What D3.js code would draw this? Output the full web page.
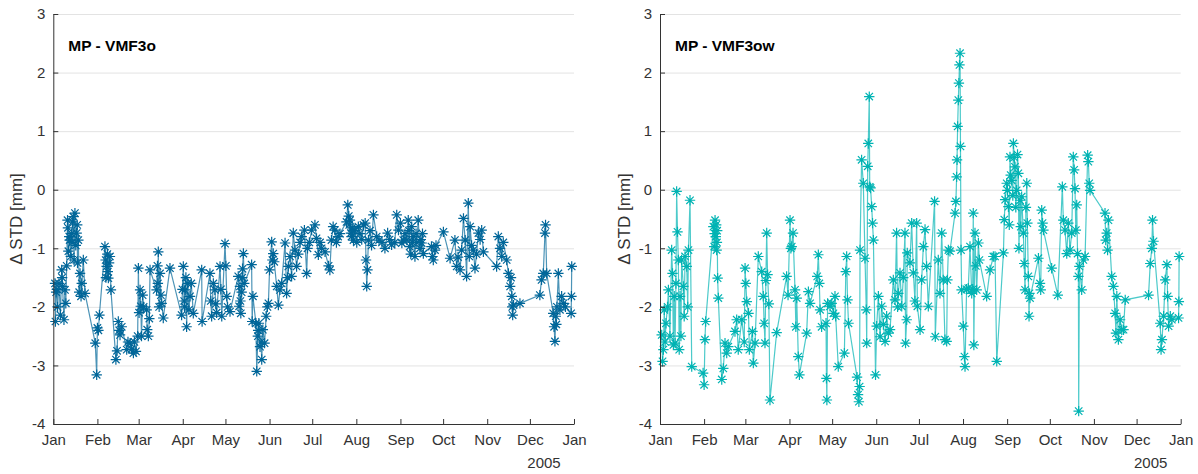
<!DOCTYPE html>
<html>
<meta charset="utf-8">
<head>
<script src="https://d3js.org/d3.v7.min.js"></script>
<style>
  body { margin: 0; background: #fff; }
  svg text { font-family: "Liberation Sans", Arial, Helvetica, sans-serif; }
  .tick text { fill: #333; font-size: 15px; }
  .grid line { stroke: #e3e3e3; }
  .grid path { display: none; }
</style>
</head>
<body>
<div id="chart"></div>
<script>
// day of year 2004 (0 = 1 Jan) and delta STD [mm]
var dayVMF3o = [1.2,1.5,2.0,2.5,3,4,5,5.9,6.2,6.5,7.5,8.2,8.8,9.4,10,10.3,10.6,11.2,11.5,12.3,12.9,13.2,13.5,14.1,14.6,15.2,15.8,16.4,16.8,17,17.6,18.2,18.8,19.5,20,21.1,22.3,
  29.5,30.5,31,31.7,32.4,36.3,36.8,37,37.5,38,38.3,38.7,39.2,39.8,40.5,44,44.8,45.7,46.3,46.9,48.1,51.6,52.5,54,55,56.3,57,58.1,59.3,59.8,60.3,61,61.5,62,62.8,63.5,65.6,66,66.8,67.5,68,
  72.6,73.2,73.5,73.8,74.4,75,75.6,76.2,77.3,82,90.2,90.8,91.4,92,92.3,92.6,93.2,93.7,94.5,95.3,96.1,97,98.4,104.3,104.6,110.1,110.7,111.3,112.5,113.6,114.2,114.8,117.2,117.8,118.4,
  120.7,121.3,121.9,122.5,124.2,130,130.6,131.2,131.5,131.8,132.4,132.8,133,133.6,134.2,139.4,139.8,140.3,142.4,143,143.8,144,144.5,145.3,146,146.5,147.3,148.5,149.6,150.5,151.2,
  152,153.5,154,154.6,155.3,157,158.2,159.3,160.5,162.9,164,164.6,165.2,166.4,167.5,168.7,169.9,171,172.2,173.5,174.6,176.5,178.1,178.7,180,181.6,
  183.9,185,186.3,187.5,188.6,191,193.5,194.4,195.5,196.7,197.9,199,200.2,201.5,206.1,207,207.7,208,208.5,209.2,209.6,210,210.5,211,212,
  213.3,214.4,215.5,216.8,218,219.2,219.8,220.3,220.8,221.5,222.6,223.7,225,227.3,229,231,233.1,235,236.4,237.8,240,241.4,242.6,
  244,245,246,247.2,248.5,249.5,250,250.5,251.3,251.9,252.5,253,254.2,255,255.5,256.5,257.7,258.3,258.9,259.5,260.1,265.8,266.5,267.1,268.3,269,
  274.2,278.9,282.3,283.5,284.5,285.9,287,288.3,289.5,290.5,291.7,292.4,293,294,295.2,296.4,297.5,298.8,300,301.1,302.3,
  311.6,312.8,314,315.2,316.3,318.7,319.9,321.1,321.7,322.3,322.6,322.9,323.5,328,342,343.2,344.4,345.6,346,346.8,
  351.4,352,352.6,353.2,353.6,354,355,356.1,357.3,358.5,360,364,364.2,364.4];
var stdVMF3o = [-1.6,-2.25,-1.75,-1.7,-2.0,-1.6,-2.14,-1.37,-1.5,-1.65,-2.22,-1.71,-1.94,-1.3,-0.52,-0.65,-1.05,-0.8,-0.86,-1.14,-0.75,-0.9,-0.55,-0.46,-1.2,-0.4,-0.95,-0.74,-0.6,-1.25,-0.86,-1.75,-1.43,-1.82,-1.6,-1.2,-1.77,
  -2.62,-3.16,-2.36,-2.4,-2.14,-0.97,-1.2,-1.5,-1.31,-1.1,-1.4,-1.51,-1.25,-1.14,-1.71,-2.9,-2.75,-2.25,-2.4,-2.48,-2.34,-2.73,-2.6,-2.62,-2.72,-2.79,-2.6,-2.76,-2.5,-1.34,-2.1,-1.71,-1.99,-2.5,-1.8,-2.0,-2.05,-2.39,-2.5,-2.2,-1.37,
  -1.71,-1.3,-1.6,-1.06,-2.0,-1.43,-1.8,-1.94,-2.19,-1.34,-2.14,-1.7,-1.31,-1.9,-2.0,-1.71,-1.5,-2.34,-1.6,-2.05,-1.82,-1.6,-2.11,-1.37,-2.25,-1.43,-1.9,-2.16,-1.6,-1.71,-1.95,-2.1,-1.31,-1.7,-2.16,
  -0.92,-1.3,-1.82,-2.0,-2.08,-1.48,-1.99,-1.65,-1.9,-2.11,-1.75,-1.5,-1.35,-1.09,-1.6,-1.28,-2.25,-1.82,-2.28,-3.1,-2.5,-2.4,-2.28,-2.68,-2.6,-2.9,-2.39,-2.62,-2.16,-2.0,-1.94,
  -1.37,-0.89,-1.2,-1.09,-1.23,-1.65,-1.97,-1.71,-1.6,-0.91,-1.77,-1.5,-1.31,-1.14,-1.48,-0.74,-1.03,-1.31,-1.1,-0.9,-0.8,-0.69,-1.43,-1.0,-0.9,-0.69,
  -0.6,-0.83,-1.11,-0.9,-1.0,-1.06,-1.3,-1.37,-0.86,-0.63,-0.69,-0.9,-0.8,-0.75,-0.55,-0.26,-0.45,-0.6,-0.52,-0.74,-0.8,-0.65,-0.7,-0.86,-0.7,
  -0.9,-0.63,-0.75,-0.85,-0.6,-0.57,-1.2,-1.65,-1.37,-0.86,-0.7,-0.95,-0.43,-0.8,-0.86,-0.9,-1.0,-0.74,-0.85,-0.94,-0.9,-0.43,-0.69,
  -0.57,-0.91,-0.86,-0.75,-0.86,-0.52,-0.7,-0.97,-1.1,-0.63,-0.9,-0.8,-1.14,-0.75,-0.9,-0.52,-1.0,-0.85,-0.91,-0.75,-1.09,-0.97,-1.14,-1.2,-1.03,-0.95,
  -0.72,-1.17,-0.86,-1.31,-1.15,-1.37,-1.03,-0.49,-0.86,-1.48,-0.23,-1.14,-0.63,-0.95,-1.03,-1.34,-1.1,-0.74,-0.85,-0.69,-1.06,
  -1.31,-0.8,-1.0,-1.14,-0.9,-1.2,-1.43,-1.65,-1.5,-1.82,-2.0,-2.14,-1.97,-1.94,-1.8,-1.54,-1.43,-0.74,-0.6,-1.43,
  -2.11,-2.34,-2.59,-2.16,-2.3,-2.0,-1.43,-2.05,-1.82,-1.94,-2.0,-2.11,-1.82,-1.31];

var dayVMF3ow = [1.2,1.8,2.4,3.0,3.6,4.2,5.3,5.9,7,8.2,8.8,9.4,10.0,10.6,11.2,11.7,12.3,12.9,13.5,14.1,14.7,15.2,16.4,17,17.6,18.8,19.5,20,21.1,22.3,
  30.3,31,31.6,32.1,37.5,38.1,38.4,38.7,39.2,39.5,39.8,40.0,40.2,40.5,41,43.4,44.5,45.7,46.9,48,52.7,53.9,55,57.5,59.2,59.8,60.3,61,62.2,62.8,65,65.6,66.8,
  69.1,71.5,72.6,73.2,73.8,74.4,75,75.6,76.5,77.3,82,89,90,91.4,92,92.6,93.5,94.9,95.5,96.1,97.2,98,103.1,104.3,105.5,110.5,111.3,112,112.5,113.6,
  116.7,117,117.3,117.8,119.5,120.7,121.9,123,123.5,125.3,129.6,130.6,131.2,131.8,132.5,138.5,139.2,139.8,140.3,140.6,141.7,142.9,144.1,145,145.3,146,146.4,147.1,147.4,148,148.8,149.4,150,
  151.5,152.3,153.5,154.7,155.8,157,158.2,159.3,160.5,161.7,164,165.2,166.3,167,167.5,168.7,169.9,171,172.2,172.6,173.4,173.8,175.7,176.9,178.1,179.2,180.4,180.9,
  182.8,183.9,185.1,186.3,187.4,188.6,193,193.5,195.6,196.8,198,199.1,200.3,201.5,202,202.7,203.8,207.4,208,208.5,208.8,209.2,209.7,210.1,210.5,210.9,211.2,211.6,212,
  213.2,214,214.4,215.5,216.7,217.9,219.1,219.8,220.2,220.6,221.4,222,222.6,223.8,224.5,229.6,232,234.3,235.5,236.7,241.4,242,242.6,243.7,
  244.2,244.9,245.5,246,246.5,247.2,248,248.4,249,249.5,250.1,250.7,251.3,251.9,252.3,253.1,253.6,254.2,255.4,256,256.6,257.2,257.8,258.2,258.9,259.4,259.7,260.1,
  266,267.1,267.6,268.3,268.9,269.5,275.3,279.6,282.8,283.5,284.7,285.9,287,288.2,289.4,290.5,291.1,291.7,292.3,292.9,293.5,294.1,294.3,294.8,296.4,297.6,298.8,300.6,301.1,301.7,302.3,
  312.8,313.3,314,314.6,315.2,317.5,318.7,319.9,320.5,321.1,322.2,323.4,324.6,325.8,327,343.4,344.6,345.7,346.2,346.9,
  351.6,352.2,352.8,354,355.1,356.3,356.8,357.5,358.7,359.8,364.5,364.7,364.9];
var stdVMF3ow = [-2.48,-2.93,-2.73,-2.05,-2.6,-2.28,-2.0,-1.71,-2.5,-1.03,-1.43,-2.65,-1.82,-2.62,-1.6,-0.03,-0.72,-1.2,-2.73,-1.82,-2.5,-1.2,-1.65,-2.16,-1.14,-1.31,-2.0,-1.03,-0.18,-3.02,
  -3.13,-3.33,-2.56,-2.25,-0.63,-0.97,-0.75,-0.52,-0.8,-0.6,-1.03,-0.9,-0.7,-1.51,-1.85,-3.24,-3.05,-2.62,-2.79,-2.68,-2.42,-2.22,-2.73,-2.22,-2.6,-1.34,-1.6,-1.91,-2.11,-2.73,-2.42,-2.96,-2.62,
  -1.14,-1.4,-1.82,-2.28,-2.62,-1.55,-0.74,-1.45,-1.95,-3.59,-2.44,-1.48,-1.8,-0.52,-1.0,-0.97,-0.74,-1.71,-2.34,-1.85,-2.85,-3.16,-2.45,-1.74,-1.94,-1.48,-1.11,-1.6,-2.05,-2.34,
  -2.28,-3.22,-3.59,-1.94,-1.99,-1.94,-2.11,-1.82,-2.16,-3.02,-2.79,-1.4,-1.14,-1.88,-2.28,-3.2,-3.5,-3.62,-3.36,-1.03,0.51,0.11,-1.17,-2.05,-2.62,0.4,0.79,1.59,0.05,0.03,-0.29,-0.57,-0.86,
  -3.16,-2.33,-1.82,-2.51,-1.99,-2.3,-2.59,-2.16,-2.45,-2.39,-1.54,-1.88,-0.74,-2.0,-1.77,-1.42,-1.99,-1.5,-0.74,-2.62,-2.22,-1.08,-1.25,-0.57,-1.42,-1.9,-0.57,-1.99,
  -2.39,-1.54,-0.97,-0.68,-1.31,-1.99,-0.2,-2.51,-1.2,-1.77,-0.74,-1.54,-2.56,-2.59,-1.54,-1.03,-1.05,-0.4,-0.2,0.22,0.51,1.08,1.53,1.82,2.13,2.33,0.74,-1.03,-1.71,
  -2.33,-2.85,-3.02,-1.7,-1.68,-0.97,-1.77,-1.7,-0.4,-2.65,-0.74,-1.3,-1.71,-0.91,-1.2,-1.82,-1.37,-1.14,-1.14,-2.93,-1.08,-0.51,-0.17,0.11,
  -0.01,-0.29,-0.6,0.56,0.25,0.16,-0.1,0.79,0.55,0.39,-0.3,-0.01,0.6,0.28,-1.0,-0.18,-0.63,-0.12,-0.74,-1.26,-1.71,-0.3,0.11,-0.57,-1.48,-2.16,-1.77,-1.85,
  -1.17,-1.6,-1.71,-0.35,-0.57,-0.69,-1.34,-1.8,0.05,-0.52,-0.69,-1.09,-0.57,-1.03,-0.74,0.56,0.34,0.02,-0.69,-0.26,-1.09,-1.48,-3.78,-1.31,-1.71,-1.2,-1.14,0.59,0.48,0.11,-0.01,
  -0.4,-0.86,-0.74,-1.03,-0.52,-1.48,-1.65,-2.11,-2.45,-1.82,-2.56,-2.22,-2.39,-2.39,-1.88,-1.8,-1.26,-1.0,-0.52,-0.88,
  -2.28,-2.73,-2.56,-2.16,-1.54,-1.28,-1.82,-2.33,-2.16,-2.22,-2.19,-1.91,-1.14];

var yTicks = [3, 2, 1, 0, -1, -2, -3, -4];
var panelTitles = ["MP - VMF3o", "MP - VMF3ow"];
var panelColors = ["#006699", "#00b3b3"];
var yearLabel = "2005";

var W = 1198, H = 474;
var plotTop = 14, plotBottom = 424;
var panels = [
  {left: 53.3, right: 574, days: dayVMF3o, vals: stdVMF3o, title: panelTitles[0], color: panelColors[0], ylab: 22},
  {left: 660, right: 1180.7, days: dayVMF3ow, vals: stdVMF3ow, title: panelTitles[1], color: panelColors[1], ylab: 630}
];

var t0 = Date.UTC(2004, 0, 1);
function toDate(d) { return new Date(t0 + d * 864e5); }

var svg = d3.select("#chart").append("svg")
    .attr("width", W).attr("height", H);

var y = d3.scaleLinear().domain([-4, 3]).range([plotBottom, plotTop]);

// asterisk marker
var star = "M-5.2,0H5.2M0,-5.2V5.2M-3.7,-3.7L3.7,3.7M-3.7,3.7L3.7,-3.7";

panels.forEach(function(p) {
  var x = d3.scaleUtc()
      .domain([new Date(t0), new Date(Date.UTC(2005, 0, 1))])
      .range([p.left, p.right]);
  var g = svg.append("g");

  // horizontal grid
  g.append("g").attr("class", "grid")
      .attr("transform", "translate(" + p.left + ",0)")
      .call(d3.axisLeft(y).tickValues(yTicks).tickSize(-(p.right - p.left)).tickFormat(""));

  var pts = p.days.map(function(d, i) { return [toDate(d), p.vals[i]]; });

  g.append("path")
      .datum(pts)
      .attr("fill", "none")
      .attr("stroke", p.color)
      .attr("stroke-opacity", 0.7)
      .attr("stroke-width", 1.2)
      .attr("d", d3.line().x(function(d) { return x(d[0]); }).y(function(d) { return y(d[1]); }));

  g.selectAll(".mk").data(pts).enter().append("path")
      .attr("class", "mk")
      .attr("d", star)
      .attr("transform", function(d) { return "translate(" + x(d[0]) + "," + y(d[1]) + ")"; })
      .attr("fill", "none")
      .attr("stroke", p.color)
      .attr("stroke-width", 1.2);

  // axes
  var xa = g.append("g")
      .attr("transform", "translate(0," + plotBottom + ")")
      .call(d3.axisBottom(x).ticks(d3.utcMonth.every(1)).tickFormat(d3.utcFormat("%b"))
        .tickSizeInner(-5).tickSizeOuter(0).tickPadding(10));
  var ya = g.append("g")
      .attr("transform", "translate(" + p.left + ",0)")
      .call(d3.axisLeft(y).tickValues(yTicks).tickFormat(d3.format("d"))
        .tickSizeInner(-5).tickSizeOuter(0).tickPadding(8));
  [xa, ya].forEach(function(a) {
    a.select(".domain").attr("stroke", "#333");
    a.selectAll(".tick line").attr("stroke", "#333");
  });
  ya.selectAll(".tick text").text(function(d) { return d < 0 ? "-" + Math.abs(d) : d; });

  g.append("text")
      .attr("x", p.right - 30).attr("y", 468)
      .attr("text-anchor", "middle")
      .attr("fill", "#333").style("font-size", "15px")
      .text(yearLabel);

  g.append("text")
      .attr("x", p.left + 15).attr("y", 51)
      .attr("fill", "#000")
      .style("font-size", "15.5px").style("font-weight", "bold")
      .text(p.title);

  g.append("text")
      .attr("transform", "translate(" + p.ylab + "," + ((plotTop + plotBottom) / 2) + ") rotate(-90)")
      .attr("text-anchor", "middle")
      .attr("fill", "#333").style("font-size", "17px")
      .text("\u0394 STD [mm]");
});
</script>
</body>
</html>
